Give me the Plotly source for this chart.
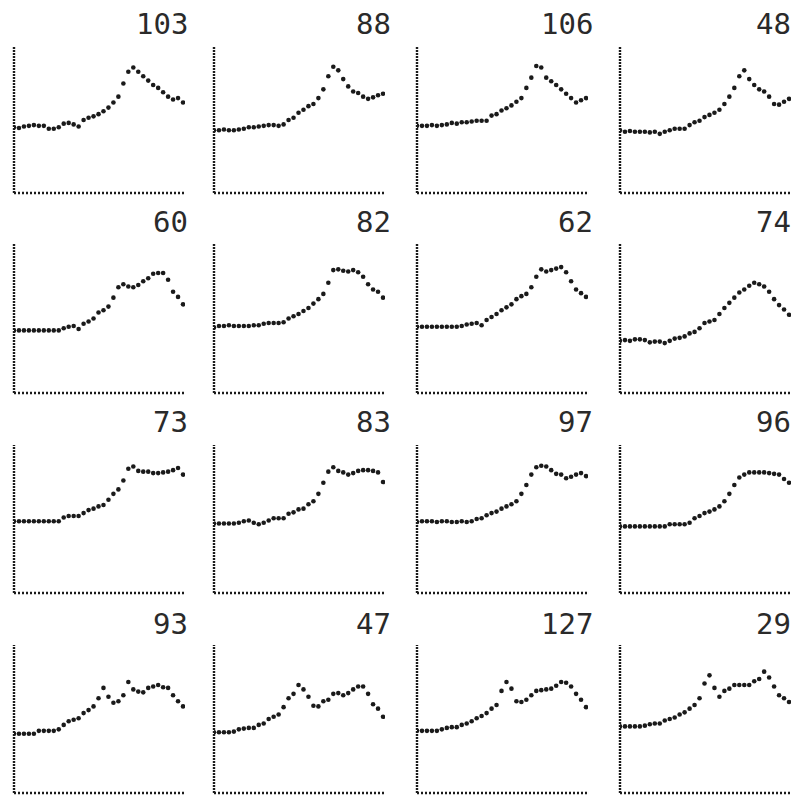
import plotly.graph_objects as go

titles = ["103", "88", "106", "48",
          "60", "82", "62", "74",
          "73", "83", "97", "96",
          "93", "47", "127", "29"]

x_index = list(range(35))

series_1 = [45, 44.5, 45.5, 46, 46.5, 46, 46, 44, 44, 45, 47.5, 48, 47, 45.5, 50, 51.5, 52.5, 54, 56, 58.5, 62, 66, 75, 83, 86, 83, 80, 77, 74, 72, 69, 66, 64, 65, 62]
series_2 = [43, 43, 43.5, 43, 43, 43.5, 44, 45, 45, 45.5, 46, 46.5, 46.5, 46, 47, 50, 51.5, 55, 57, 59.5, 61, 65, 71, 80, 86.5, 84, 78, 73, 69.5, 68.5, 66, 64.5, 65.5, 67, 68]
series_3 = [46, 46, 46, 46.5, 46, 46.5, 47, 48, 47.5, 48.5, 48.5, 49, 49.5, 49.5, 49.5, 53, 54, 56.5, 58, 60, 62.5, 65, 72, 79, 87, 86, 79, 76.5, 74, 71, 68, 65, 62, 63.5, 65]
series_4 = [43, 42, 42.5, 42, 42, 42, 41.5, 42, 40.5, 42, 43, 44, 44, 44, 46.5, 48.5, 49.5, 52, 53.5, 55, 57, 61, 66, 72, 80, 84, 78, 74, 71, 69.5, 66, 61, 60.5, 62.5, 64.5]
series_5 = [42, 42, 42, 42, 42, 42, 42, 42, 42, 42, 43.5, 44.5, 45, 43, 46.5, 48, 50, 54, 55.5, 58, 64, 71, 73, 71.5, 71, 72.5, 75, 77, 80, 80.5, 80.5, 76, 68, 64.5, 59.5]
series_6 = [44, 45, 45, 45.5, 45, 45, 45, 45, 45.5, 45.5, 46.5, 47, 47, 47, 47.5, 50, 51.5, 53, 55, 57, 60, 63, 66.5, 74, 82.5, 83, 82, 81.5, 82.5, 81, 78, 73, 69.5, 68, 64]
series_7 = [44.5, 44.5, 44.5, 44.5, 44.5, 44.5, 44.5, 44.5, 44.5, 45, 46, 46.5, 47, 45.5, 49, 51, 53, 55.5, 57.5, 59.5, 63, 65, 66.5, 71, 78, 83, 81.5, 82.5, 83.5, 84.5, 81, 75, 69.5, 67, 64.5]
series_8 = [35, 35.5, 35, 36, 36, 35.5, 34, 34.5, 34.5, 33.5, 35, 36.5, 37, 38, 40, 41, 43.5, 47, 48, 49, 53, 57, 60.5, 64, 67.5, 69.5, 72, 74, 73, 71.5, 68, 63, 59, 56, 52.5]
series_9 = [48.5, 48.5, 48.5, 48.5, 48.5, 48.5, 48.5, 48.5, 48.5, 48.5, 51, 52, 52, 52, 54, 56, 57, 58.5, 59.5, 63, 67, 70, 76, 84, 85.5, 82.5, 82, 82, 81, 81, 81.5, 82, 83, 84.5, 80]
series_10 = [47, 47, 47, 47, 47, 47.5, 48.5, 49, 47.5, 46.5, 47.5, 49, 50.5, 50.5, 50.5, 53.5, 54.5, 56.5, 57, 60, 62, 67, 74.5, 82, 85, 82.5, 81.5, 80, 81, 82.5, 83, 83, 82.5, 81.5, 75]
series_11 = [48, 48.5, 48.5, 48.5, 48, 48.5, 48.5, 48, 48, 48.5, 48, 48.5, 50, 50.5, 52.5, 54, 55, 57, 58.5, 60, 62, 67, 73, 80, 85, 86, 85.5, 83, 80.5, 80, 77.5, 78.5, 80, 81, 79]
series_12 = [45, 45, 45, 45, 45, 45, 45, 45, 45, 45, 46.5, 46.5, 46.5, 46.5, 47.5, 50.5, 52, 54, 55, 56.5, 58.5, 62, 67, 73, 78, 80, 81.5, 81.5, 81.5, 81.5, 81, 80.5, 80, 77, 74.5]
series_13 = [40, 40, 40, 40, 40, 42, 42, 42, 42, 43, 46, 48.5, 49.5, 50.5, 54, 56, 58.5, 64, 71, 65, 61, 62, 66, 75, 70, 68.5, 68, 71, 72, 73, 71.5, 71, 66, 62, 58.5]
series_14 = [41, 41, 41, 41, 41.5, 43, 43.5, 44, 44, 46, 47, 50, 51.5, 53, 58, 64, 67, 73, 70, 65, 59, 58.5, 62, 63, 67, 67.5, 66, 67.5, 70, 72, 72, 67, 60, 57, 51.5]
series_15 = [42, 42, 42, 42, 42, 43, 44, 44.5, 44.5, 46, 47, 48.5, 50.5, 52, 54, 57, 59.5, 69, 75, 70.5, 62, 61.5, 63, 66, 69, 69.5, 70, 70.5, 72.5, 75, 74.5, 72, 67, 63, 58]
series_16 = [45, 45, 45, 45, 45, 45.5, 46.5, 47, 47, 49, 50, 51, 53, 54.5, 57, 59.5, 64, 74, 79.5, 71, 65, 69, 70.5, 73, 73, 73, 73, 75.5, 77, 82, 78, 72, 66, 64, 61.5]

all_series = [series_1, series_2, series_3, series_4,
              series_5, series_6, series_7, series_8,
              series_9, series_10, series_11, series_12,
              series_13, series_14, series_15, series_16]

W, H = 801, 796
col_left = [14, 214, 417, 620]
col_width = 171
row_top = [47, 244, 445, 645]
row_bottom = [193, 393, 593, 793]
title_y = [24, 222, 422, 624]
title_right = [190, 393, 595, 793]

ink = "#1a1a1a"
fig = go.Figure()
layout = dict(
    width=W, height=H,
    margin=dict(l=0, r=0, t=0, b=0),
    paper_bgcolor="white", plot_bgcolor="white",
    showlegend=False,
)
shapes = []
annotations = []

for k, ys in enumerate(all_series):
    r, c = divmod(k, 4)
    n = k + 1
    xa = "x" if n == 1 else f"x{n}"
    ya = "y" if n == 1 else f"y{n}"
    x0 = col_left[c] / W
    x1 = (col_left[c] + col_width) / W
    y0 = 1 - row_bottom[r] / H
    y1 = 1 - row_top[r] / H
    layout["xaxis" if n == 1 else f"xaxis{n}"] = dict(
        domain=[x0, x1], range=[0, 34.4], visible=False, anchor=ya)
    layout["yaxis" if n == 1 else f"yaxis{n}"] = dict(
        domain=[y0, y1], range=[0, 100], visible=False, anchor=xa)
    fig.add_trace(go.Scatter(
        x=x_index, y=ys, mode="markers", xaxis=xa, yaxis=ya,
        marker=dict(size=4.6, color=ink, symbol="circle"),
        hoverinfo="skip"))
    # dotted left axis
    shapes.append(dict(type="line", xref=f"{xa} domain", yref=f"{ya} domain",
                       x0=0, x1=0, y0=0, y1=1,
                       line=dict(color=ink, width=2.4, dash="2px,1px")))
    # dotted bottom axis
    shapes.append(dict(type="line", xref=f"{xa} domain", yref=f"{ya} domain",
                       x0=0, x1=1, y0=0, y1=0,
                       line=dict(color=ink, width=2.4, dash="2px,2px")))
    annotations.append(dict(
        text=titles[k], xref="paper", yref="paper",
        x=title_right[c] / W, y=1 - title_y[r] / H,
        xanchor="right", yanchor="middle", showarrow=False,
        font=dict(family="DejaVu Sans Mono", size=29, color="#2a2a2a")))

layout["shapes"] = shapes
layout["annotations"] = annotations
fig.update_layout(**layout)
fig.write_html(
    "out.html",
    config={"displayModeBar": False, "staticPlot": True},
    post_script="document.body.style.margin='0';document.body.style.overflow='hidden';",
)
